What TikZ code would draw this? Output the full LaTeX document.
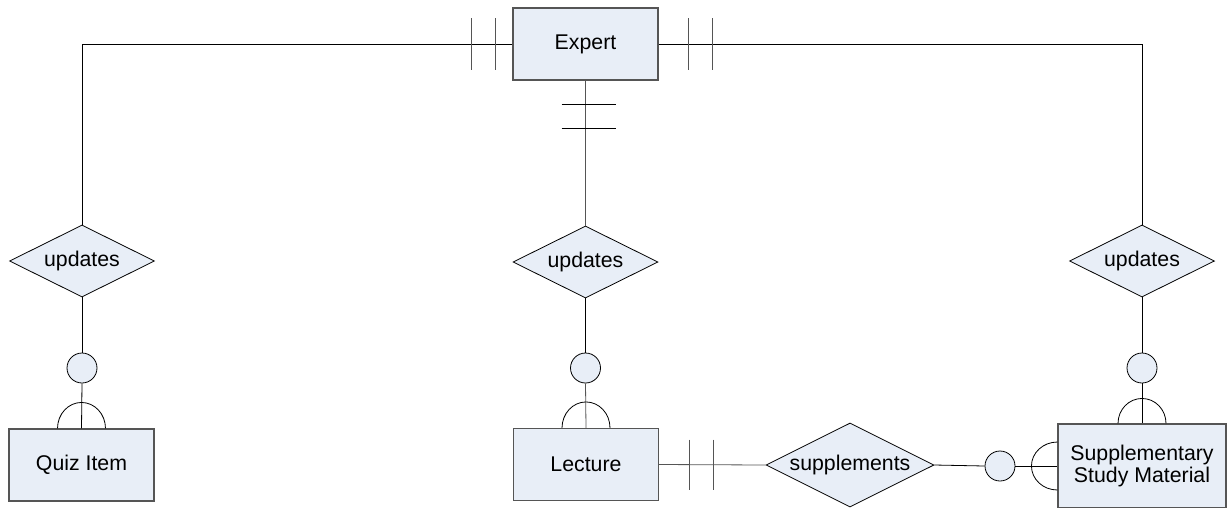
\documentclass[tikz,border=0pt]{standalone}
\usepackage{fontspec}
\setmainfont{Liberation Sans}
\usetikzlibrary{shapes.geometric,calc}
\definecolor{erfill}{RGB}{232,238,247}
\definecolor{erline}{RGB}{85,85,85}
\begin{document}
\begin{tikzpicture}[x=1pt,y=-1pt,
  every node/.style={font=\fontsize{21.3}{24}\selectfont},
  entity/.style={draw=erline,line width=1.1pt,fill=erfill,rectangle,inner sep=0pt,minimum width=145pt,minimum height=72pt,align=center},
  rel/.style={draw=black,line width=0.8pt,fill=erfill,diamond,aspect=2,inner sep=0pt,minimum width=145pt,minimum height=72pt},
  opt/.style={draw=black,line width=0.8pt,fill=erfill,circle,inner sep=0pt,minimum size=30pt},
  conn/.style={draw=black,line width=0.8pt},
  bar/.style={draw=erline,line width=0.9pt}]
\useasboundingbox (0,0) rectangle (1231,507);
% entities
\node[entity] (expert) at (585.5,44) {Expert};
\node[entity] (quiz) at (81.5,465) {Quiz Item};
\node[entity] (lecture) at (586,464.5) {Lecture};
\node[entity,minimum width=168pt,minimum height=84pt] (ssm) at (1142,466) {Supplementary\\[-2pt]Study Material};
% relationships
\node[rel] (up1) at (82,261) {updates};
\node[rel] (up2) at (585.5,262) {updates};
\node[rel] (up3) at (1142,261) {updates};
\node[rel,minimum width=168pt,minimum height=84pt] (sup) at (850,465) {supplements};
% optional circles
\node[opt] (c1) at (82,368) {};
\node[opt] (c2) at (585.5,368) {};
\node[opt] (c3) at (1142,368) {};
\node[opt] (c4) at (1000,466) {};
% connectors from Expert
\draw[conn] (expert.west) -| (up1.north);
\draw[conn] (expert.east) -| (up3.north);
\draw[conn,draw=erline] (expert.south) -- (up2.north);
% crossbars (one and only one)
\draw[bar] ($(expert.west)+(-17,-26)$) -- ($(expert.west)+(-17,26)$);
\draw[bar] ($(expert.west)+(-41,-26)$) -- ($(expert.west)+(-41,26)$);
\draw[bar] ($(expert.east)+(30,-26)$) -- ($(expert.east)+(30,26)$);
\draw[bar] ($(expert.east)+(54,-26)$) -- ($(expert.east)+(54,26)$);
\draw[conn] ($(expert.south)+(-24,24)$) -- ($(expert.south)+(30,24)$);
\draw[conn] ($(expert.south)+(-24,48)$) -- ($(expert.south)+(30,48)$);
% updates to circles to entities
\draw[conn] (up1.south) -- (c1.north);
\draw[conn] (c1.south) -- (quiz.north);
\draw[conn] (up2.south) -- (c2.north);
\draw[conn,draw=erline] (c2.south) -- (lecture.north);
\draw[conn] (up3.south) -- (c3.north);
\draw[conn] (c3.south) -- (ssm.north);
% crow-foot arcs
\draw[conn] ($(quiz.north)+(-24pt,0)$) arc[start angle=180,end angle=0,x radius=24pt,y radius=26pt];
\draw[conn] ($(lecture.north)+(-24pt,0)$) arc[start angle=180,end angle=0,x radius=24pt,y radius=26pt];
\draw[conn] ($(ssm.north)+(-24pt,0)$) arc[start angle=180,end angle=0,x radius=24pt,y radius=25pt];
\draw[conn] ($(ssm.west)+(0,24pt)$) arc[start angle=90,end angle=270,x radius=26pt,y radius=24pt];
% lecture - supplements - ssm
\draw[conn,draw=erline] (lecture.east) -- (sup.west);
\draw[bar] ($(lecture.east)+(30,-25)$) -- ($(lecture.east)+(30,25)$);
\draw[bar] ($(lecture.east)+(54,-25)$) -- ($(lecture.east)+(54,25)$);
\draw[conn] (sup.east) -- (c4.west);
\draw[conn] (c4.east) -- (c4.east -| ssm.west);
\end{tikzpicture}
\end{document}
